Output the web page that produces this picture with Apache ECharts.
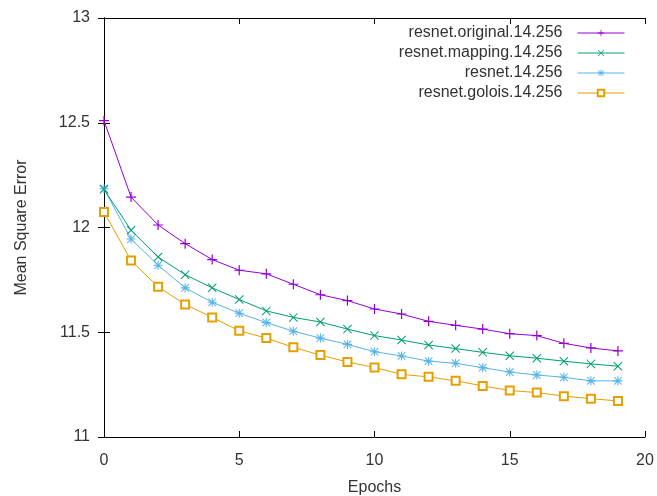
<!DOCTYPE html>
<html>
<head>
<meta charset="utf-8">
<script src="https://cdn.jsdelivr.net/npm/echarts@6/dist/echarts.min.js"></script>
<style>
html,body{margin:0;padding:0;background:#fff;}
#chart{width:657px;height:496px;}
</style>
</head>
<body>
<div id="chart"></div>
<script>
const epochs = [0,1,2,3,4,5,6,7,8,9,10,11,12,13,14,15,16,17,18,19];
const seriesNames = ['resnet.original.14.256','resnet.mapping.14.256','resnet.14.256','resnet.golois.14.256'];
const originalVals = [12.51,12.145,12.012,11.923,11.847,11.796,11.779,11.729,11.679,11.651,11.611,11.587,11.552,11.533,11.515,11.493,11.484,11.447,11.425,11.411];
const mappingVals  = [12.182,11.987,11.859,11.775,11.712,11.656,11.602,11.571,11.549,11.515,11.484,11.463,11.439,11.422,11.404,11.388,11.376,11.362,11.349,11.338];
const plainVals    = [12.185,11.945,11.82,11.712,11.643,11.591,11.546,11.505,11.472,11.442,11.407,11.387,11.362,11.352,11.331,11.31,11.296,11.285,11.268,11.268];
const goloisVals   = [12.074,11.842,11.717,11.633,11.571,11.507,11.472,11.428,11.391,11.358,11.332,11.299,11.287,11.268,11.244,11.222,11.212,11.195,11.183,11.172];
const yTicks = [11, 11.5, 12, 12.5, 13];
const xTicks = [0, 5, 10, 15, 20];

const colors = ['#9400d3','#009e73','#56b4e9','#e69f00'];
const plusPath = 'path://M4.4,0h1.2v10h-1.2z M0,4.4h10v1.2h-10z';
const crossPath = 'path://M0,0.8L0.8,0L10,9.2L9.2,10Z M9.2,0L10,0.8L0.8,10L0,9.2Z';
const starPath = 'path://M4.4,0h1.2v10h-1.2z M0,4.4h10v1.2h-10z M1.2,0.4L5,4.2L8.8,0.4L9.6,1.2L5.8,5L9.6,8.8L8.8,9.6L5,5.8L1.2,9.6L0.4,8.8L4.2,5L0.4,1.2Z';
const symbols = [plusPath, crossPath, starPath, 'emptyRect'];
const sizes = [10, 9, 9, 8];
const allVals = [originalVals, mappingVals, plainVals, goloisVals];

const font = 'Liberation Sans, Arial, sans-serif';
const txt = '#333';
const fs = 16;
const chart = echarts.init(document.getElementById('chart'), null, {renderer:'canvas'});

const series = seriesNames.map((name, i) => ({
  name: name,
  type: 'line',
  data: epochs.map((e, j) => [e, allVals[i][j]]),
  symbol: symbols[i],
  symbolSize: sizes[i],
  showAllSymbol: true,
  lineStyle: {color: colors[i], width: 1},
  itemStyle: {color: colors[i], borderColor: colors[i], borderWidth: i === 3 ? 1.2 : 0},
  emphasis: {disabled: true},
  animation: false,
  z: 10 - i
}));

const tickStyle = {show: true, inside: true, length: 6, lineStyle: {color: '#000', width: 1}};
const lineStyleAxis = {show: true, lineStyle: {color: '#000', width: 1}};

chart.setOption({
  backgroundColor: '#fff',
  animation: false,
  textStyle: {fontFamily: font},
  grid: {left: 104, right: 12, top: 18, bottom: 59, containLabel: false, outerBoundsMode: 'none'},
  legend: {
    orient: 'vertical',
    right: 32,
    top: 25,
    align: 'right',
    itemWidth: 47,
    itemHeight: 8,
    itemGap: 4,
    padding: 0,
    lineStyle: {width: 1},
    textStyle: {fontFamily: font, fontSize: fs, color: txt, padding: [0, 10, 0, 0]},
    data: seriesNames
  },
  xAxis: [{
    type: 'value', min: 0, max: 20, interval: 5,
    name: 'Epochs', nameLocation: 'middle', nameGap: 43,
    nameTextStyle: {fontFamily: font, fontSize: fs, color: txt},
    axisLine: lineStyleAxis, axisTick: tickStyle,
    axisLabel: {fontFamily: font, fontSize: fs, color: txt, margin: 16,
      formatter: v => xTicks.includes(v) ? String(v) : ''},
    splitLine: {show: false}
  }, {
    type: 'value', min: 0, max: 20, interval: 5, position: 'top',
    axisLine: lineStyleAxis, axisTick: tickStyle, axisLabel: {show: false}, splitLine: {show: false}
  }],
  yAxis: [{
    type: 'value', min: 11, max: 13, interval: 0.5,
    name: 'Mean Square Error', nameLocation: 'middle', nameGap: 74,
    nameTextStyle: {fontFamily: font, fontSize: fs, color: txt},
    axisLine: lineStyleAxis, axisTick: tickStyle,
    axisLabel: {fontFamily: font, fontSize: fs, color: txt, margin: 14,
      formatter: v => yTicks.includes(v) ? String(v) : ''},
    splitLine: {show: false}
  }, {
    type: 'value', min: 11, max: 13, interval: 0.5, position: 'right',
    axisLine: lineStyleAxis, axisTick: tickStyle, axisLabel: {show: false}, splitLine: {show: false}
  }],
  series: series
});
</script>
</body>
</html>
